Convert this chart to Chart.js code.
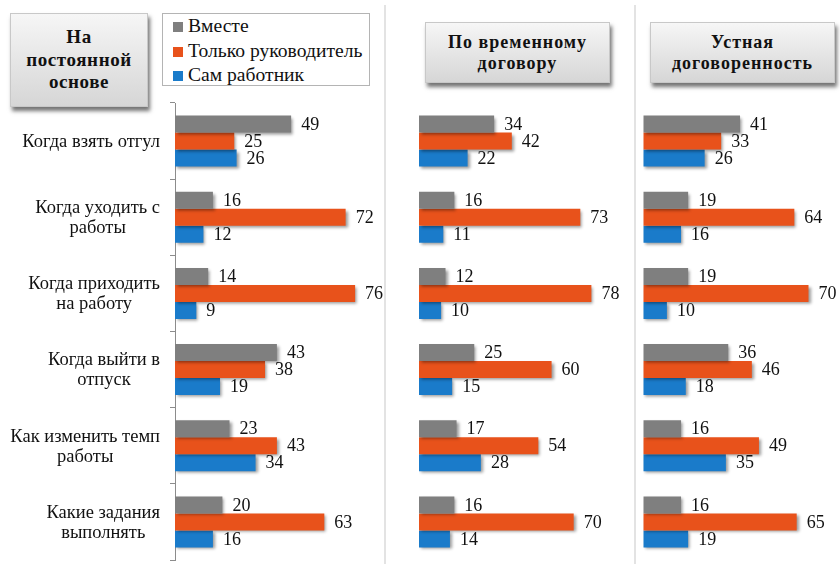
<!DOCTYPE html>
<html>
<head>
<meta charset="utf-8">
<script src="https://cdn.jsdelivr.net/npm/chart.js@4.4.0/dist/chart.umd.min.js"></script>
<style>
  body { margin: 0; background: #fff; width: 840px; height: 564px; position: relative; overflow: hidden; font-family: "Liberation Serif", "Times New Roman", serif; }
  canvas { position: absolute; top: 0; }
  .sep { position: absolute; top: 5px; bottom: 0; width: 2px; background: #e3e3e3; }
  .head { position: absolute; box-sizing: border-box; border: 1px solid #c8c8c8;
          background: linear-gradient(#f6f6f6, #d6d6d6); box-shadow: 2px 4px 4px rgba(0,0,0,0.55);
          display: flex; align-items: center; justify-content: center; text-align: center;
          font-weight: bold; font-size: 18px; letter-spacing: 1px; line-height: 21px; color: #111; }
  #legend { position: absolute; left: 162px; top: 13px; width: 208px; height: 73px; box-sizing: border-box;
            border: 1px solid #b4b4b4; padding: 0 0 0 10px; font-size: 19.6px; line-height: 24.5px; color: #111; white-space: nowrap; }
  #legend span.box { display: inline-block; width: 10px; height: 10px; margin-right: 5px; }
</style>
</head>
<body>
<div class="sep" style="left:384px"></div>
<div class="sep" style="left:634px"></div>

<div class="head" style="left:10px;top:13px;width:138px;height:94px;font-size:19px;letter-spacing:0.6px;line-height:22.5px">На<br>постоянной<br>основе</div>
<div class="head" style="left:425px;top:22px;width:185px;height:61px">По временному<br>договору</div>
<div class="head" style="left:650px;top:22px;width:185px;height:61px">Устная<br>договоренность</div>
<div id="legend"></div>

<canvas id="c1" width="385" height="564" style="left:0"></canvas>
<canvas id="c2" width="251" height="564" style="left:385px"></canvas>
<canvas id="c3" width="204" height="564" style="left:636px"></canvas>

<script>
const categories = [
  ['Когда взять отгул'],
  ['Когда уходить с', 'работы'],
  ['Когда приходить', 'на работу'],
  ['Когда выйти в', 'отпуск'],
  ['Как изменить темп', 'работы'],
  ['Какие задания', 'выполнять']
];
const seriesNames = ['Вместе', 'Только руководитель', 'Сам работник'];
const seriesColors = ['#7f7f7f', '#e8521b', '#1a7bca'];

// На постоянной основе
const permTogether = [49, 16, 14, 43, 23, 20];
const permBoss     = [25, 72, 76, 38, 43, 63];
const permSelf     = [26, 12, 9, 19, 34, 16];
// По временному договору
const tempTogether = [34, 16, 12, 25, 17, 16];
const tempBoss     = [42, 73, 78, 60, 54, 70];
const tempSelf     = [22, 11, 10, 15, 28, 14];
// Устная договоренность
const oralTogether = [41, 19, 19, 36, 16, 16];
const oralBoss     = [33, 64, 70, 46, 49, 65];
const oralSelf     = [26, 16, 10, 18, 35, 19];

const CAT_FONT = '18.5px "Liberation Serif", "Times New Roman", serif';
const VAL_FONT = '18px "Liberation Serif", "Times New Roman", serif';

// legend
document.getElementById('legend').innerHTML = seriesNames.map((n, i) =>
  '<div><span class="box" style="background:' + seriesColors[i] + '"></span>' + n + '</div>').join('');

// soft drop shadow under the bars
const barShadow = {
  id: 'barShadow',
  beforeDatasetsDraw(chart) {
    const ctx = chart.ctx;
    ctx.save();
    ctx.shadowColor = 'rgba(0,0,0,0.4)';
    ctx.shadowBlur = 3;
    ctx.shadowOffsetX = 2;
    ctx.shadowOffsetY = 2;
  },
  afterDatasetsDraw(chart) {
    chart.ctx.restore();
  }
};

// numbers to the right of the bars
const valueLabels = {
  id: 'valueLabels',
  afterDraw(chart) {
    const ctx = chart.ctx;
    ctx.save();
    ctx.font = VAL_FONT;
    ctx.fillStyle = '#111';
    ctx.textAlign = 'left';
    ctx.textBaseline = 'middle';
    chart.data.datasets.forEach((ds, i) => {
      chart.getDatasetMeta(i).data.forEach((bar, j) => {
        ctx.fillText(ds.data[j], bar.x + 10, bar.y + 1);
      });
    });
    ctx.restore();
  }
};

// category names: lines centred inside a block that is right-aligned to the axis
const catLabels = {
  id: 'catLabels',
  afterDraw(chart) {
    const y = chart.scales.y;
    if (!y.options.display) return;
    const ctx = chart.ctx;
    ctx.save();
    ctx.font = CAT_FONT;
    ctx.fillStyle = '#111';
    ctx.textAlign = 'center';
    ctx.textBaseline = 'middle';
    const right = y.right - 15;
    categories.forEach((lines, i) => {
      const w = Math.max(...lines.map(l => ctx.measureText(l).width));
      const cy = y.getPixelForTick(i);
      const lh = 20;
      lines.forEach((l, k) => {
        ctx.fillText(l, right - w / 2, cy + 1 + (k - (lines.length - 1) / 2) * lh);
      });
    });
    ctx.restore();
  }
};

function makePanel(id, values, padLeft, padRight, showAxis) {
  return new Chart(document.getElementById(id), {
    type: 'bar',
    data: {
      labels: categories,
      datasets: values.map((v, i) => ({
        label: seriesNames[i],
        data: v,
        backgroundColor: seriesColors[i],
        borderWidth: 0,
        categoryPercentage: 0.67,
        barPercentage: 1
      }))
    },
    options: {
      indexAxis: 'y',
      responsive: false,
      animation: false,
      layout: { padding: { top: 103, bottom: 4, left: padLeft, right: padRight } },
      plugins: { legend: { display: false }, tooltip: { enabled: false } },
      scales: {
        x: { display: false, min: 0, max: 80 },
        y: {
          display: showAxis,
          ticks: { display: false },
          grid: { drawOnChartArea: false, tickLength: 5, color: '#8c8c8c' },
          border: { color: '#8c8c8c' },
          afterFit(scale) { if (showAxis) scale.width = 175; }
        }
      }
    },
    plugins: [barShadow, valueLabels, catLabels]
  });
}

function drawAll() {
  // chart area widths give 2.37 / 2.21 / 2.36 px per percent
  makePanel('c1', [permTogether, permBoss, permSelf], 0, 20.4, true);
  makePanel('c2', [tempTogether, tempBoss, tempSelf], 34, 40.2, false);
  makePanel('c3', [oralTogether, oralBoss, oralSelf], 7.3, 7.9, false);
}

Promise.all([document.fonts.load(CAT_FONT, 'Когда'), document.fonts.load(VAL_FONT, '49')])
  .then(drawAll, drawAll);
</script>
</body>
</html>
